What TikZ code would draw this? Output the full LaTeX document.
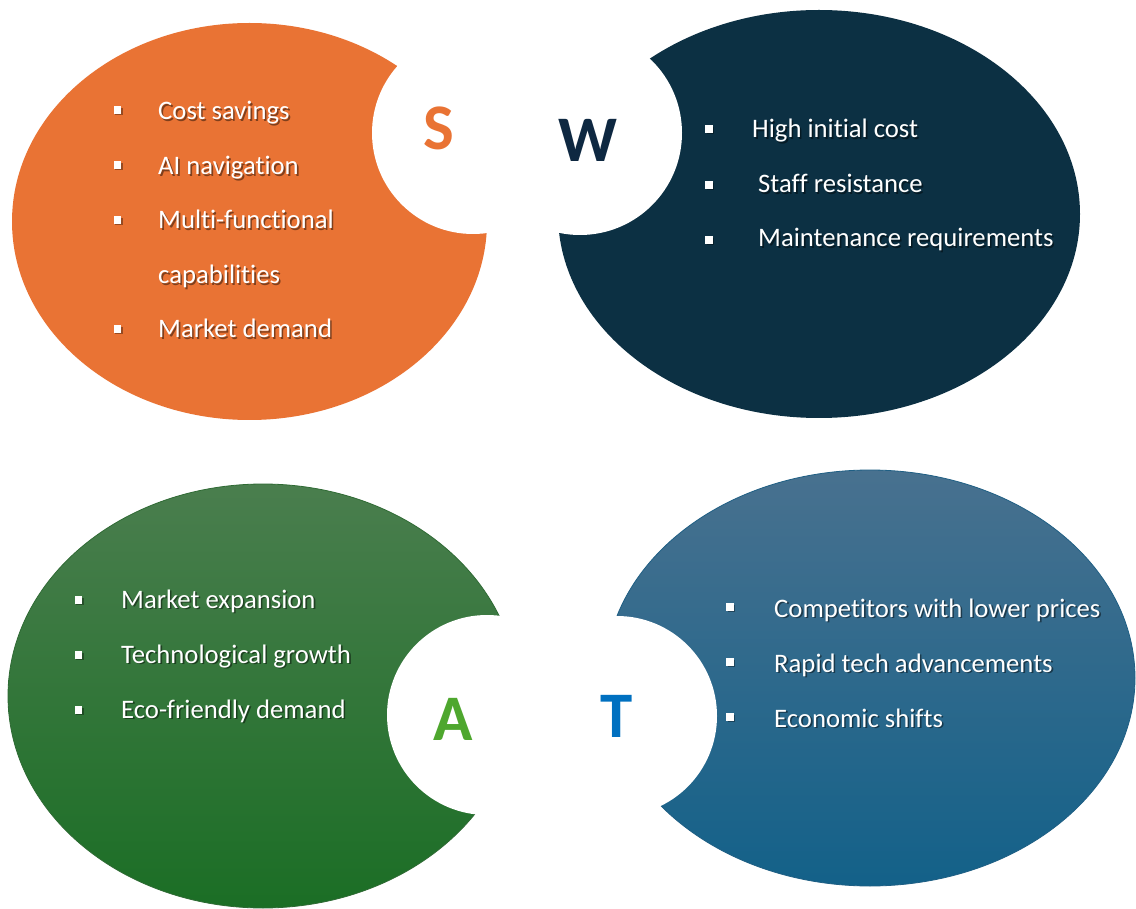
\documentclass[tikz,border=0pt]{standalone}
\usepackage{fontspec}
\setmainfont{Carlito}[RawFeature={-liga}]
\usetikzlibrary{calc}

\definecolor{sorange}{HTML}{E97334}
\definecolor{wnavy}{HTML}{0C3043}
\definecolor{wletter}{HTML}{0E2841}
\definecolor{agreentop}{HTML}{4A7E4E}
\definecolor{agreenbot}{HTML}{1B6E25}
\definecolor{agreenedge}{HTML}{2F6A34}
\definecolor{aletter}{HTML}{4EA72E}
\definecolor{tbluetop}{HTML}{48718F}
\definecolor{tbluebot}{HTML}{136189}
\definecolor{tblueedge}{HTML}{1F5F84}
\definecolor{tletter}{HTML}{0070C0}

\tikzset{
  itemtext/.style={anchor=base west, text=white, inner sep=0pt,
    font=\fontsize{26.7}{30}\selectfont},
  itemshadow/.style={itemtext, text=black, opacity=0.45},
  bulletbox/.style={fill=white, minimum size=7.5pt, inner sep=0pt},
  bulletshadow/.style={bulletbox, fill=black, opacity=0.35},
  letter/.style={anchor=base, inner sep=0pt,
    font=\fontsize{65}{70}\selectfont\bfseries},
  cutout/.style={fill=white},
}

% one list entry: #1 name, #2/#3 bullet centre, #4/#5 text baseline start, #6 text
\newcommand\swotitem[6]{%
  \node[bulletshadow] at (#2+1.5,#3+1.5) {};
  \node[bulletbox] (#1b) at (#2,#3) {};
  \node[itemshadow] at (#4+1.6,#5+1.6) {#6};
  \node[itemtext] (#1) at (#4,#5) {#6};
}
% continuation line without a bullet
\newcommand\swotcont[4]{%
  \node[itemshadow] at (#2+1.6,#3+1.6) {#4};
  \node[itemtext] (#1) at (#2,#3) {#4};
}

\begin{document}
\begin{tikzpicture}[x=1pt,y=-1pt]
  \useasboundingbox (0,0) rectangle (1136,909);
  \fill[white] (0,0) rectangle (1136,909);

  % four quadrant ellipses
  \fill[sorange] (249.5,221.5) ellipse [x radius=237.5, y radius=198.5];
  \fill[wnavy] (819,214) ellipse [x radius=261, y radius=204];
  \shade[top color=agreentop, bottom color=agreenbot, draw=agreenedge, line width=0.8pt]
    (263,696) ellipse [x radius=255, y radius=212];
  \shade[top color=tbluetop, bottom color=tbluebot, draw=tblueedge, line width=0.8pt]
    (870,678) ellipse [x radius=265, y radius=208];

  % circular cut-outs holding the letters
  \fill[cutout] (473,133) circle [radius=101];
  \fill[cutout] (580,133) circle [radius=102];
  \fill[cutout] (487,715) circle [radius=100];
  \fill[cutout] (617,716) circle [radius=100];

  \node[letter, text=sorange] (S) at (439,150) {S};
  \node[letter, text=wletter] (W) at (587.5,162) {W};
  \node[letter, text=aletter] (A) at (453,740) {A};
  \node[letter, text=tletter] (T) at (617,737) {T};

  % Strengths
  \swotitem{s1}{117.5}{110}{158}{120}{Cost savings}
  \swotitem{s2}{117.5}{165}{158}{174.5}{AI navigation}
  \swotitem{s3}{117.5}{220}{158}{229}{Multi-functional}
  \swotcont{s4}{158}{283.5}{capabilities}
  \swotitem{s5}{117.5}{329}{158}{338}{Market demand}

  % Weaknesses
  \swotitem{w1}{709}{129}{752}{138}{High initial cost}
  \swotitem{w2}{709}{185}{758}{192.5}{Staff resistance}
  \swotitem{w3}{709}{240}{758}{247}{Maintenance requirements}

  % Opportunities
  \swotitem{a1}{78.5}{600}{121}{608}{Market expansion}
  \swotitem{a2}{78.5}{655}{121}{663}{Technological growth}
  \swotitem{a3}{78.5}{710}{121}{718}{Eco-friendly demand}

  % Threats
  \swotitem{t1}{730}{607}{774}{617}{Competitors with lower prices}
  \swotitem{t2}{730}{662}{774}{672}{Rapid tech advancements}
  \swotitem{t3}{730}{717}{774}{727}{Economic shifts}
\end{tikzpicture}
\end{document}
